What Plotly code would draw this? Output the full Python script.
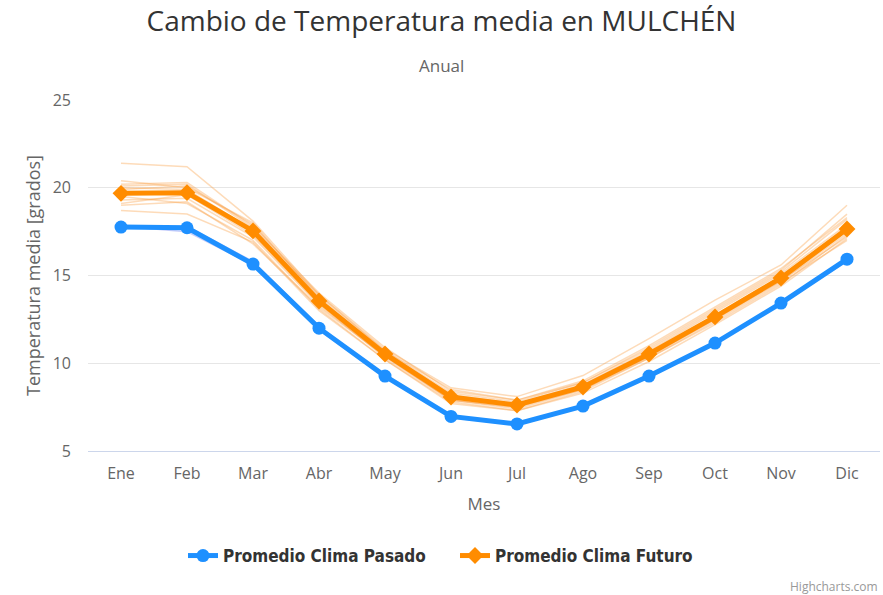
import plotly.graph_objects as go

meses = ["Ene", "Feb", "Mar", "Abr", "May", "Jun", "Jul", "Ago", "Sep", "Oct", "Nov", "Dic"]

pasado = [17.76, 17.72, 15.65, 12.0, 9.27, 6.97, 6.54, 7.56, 9.27, 11.15, 13.43, 15.93]
futuro = [19.68, 19.72, 17.54, 13.55, 10.53, 8.08, 7.62, 8.65, 10.53, 12.64, 14.86, 17.65]

modelos_pasado = [
    [17.8, 17.5, 15.6, 11.9, 9.2, 6.9, 6.5, 7.5, 9.2, 11.1, 13.4, 15.8],
    [17.7, 17.8, 15.8, 12.1, 9.3, 7.0, 6.6, 7.6, 9.3, 11.2, 13.5, 16.0],
]

modelos_futuro = [
    [21.4, 21.2, 18.1, 13.9, 10.8, 8.6, 8.1, 9.3, 11.4, 13.6, 15.6, 19.0],
    [18.7, 18.5, 16.9, 13.0, 10.2, 7.7, 7.3, 8.3, 10.1, 12.2, 14.4, 17.1],
    [19.9, 20.1, 17.9, 13.8, 10.7, 8.3, 7.8, 8.9, 10.8, 13.0, 15.2, 18.2],
    [19.3, 19.4, 17.2, 13.3, 10.4, 7.9, 7.5, 8.5, 10.4, 12.5, 14.7, 17.4],
    [20.2, 20.3, 17.8, 14.0, 10.9, 8.4, 7.9, 9.0, 11.0, 13.2, 15.4, 18.3],
    [19.5, 19.1, 17.0, 13.1, 10.2, 7.8, 7.3, 8.4, 10.3, 12.3, 14.5, 17.3],
    [20.0, 19.9, 17.6, 13.6, 10.5, 8.1, 7.6, 8.6, 10.6, 12.7, 14.9, 17.8],
    [19.1, 19.6, 17.3, 13.4, 10.3, 7.9, 7.4, 8.5, 10.3, 12.4, 14.6, 17.0],
    [20.4, 20.0, 18.0, 13.7, 10.6, 8.2, 7.7, 8.8, 10.7, 12.9, 15.1, 17.9],
    [19.7, 19.8, 17.5, 13.5, 10.6, 8.0, 7.6, 8.7, 10.5, 12.6, 14.8, 17.6],
    [19.0, 19.2, 16.8, 13.2, 10.4, 7.9, 7.5, 8.6, 10.4, 12.5, 14.7, 17.2],
    [20.1, 20.2, 17.7, 13.9, 10.7, 8.5, 7.9, 8.9, 10.9, 13.1, 15.3, 18.5],
]

FONT = "Open Sans"
BLUE = "#1E90FF"
ORANGE = "#FF8C00"

W, H = 883, 595
L, R, T, B = 88, 3, 100, 144
PW, PH = W - L - R, H - T - B


def px(x):
    return (x - L) / PW


def py(y):
    return (H - B - y) / PH


fig = go.Figure()

for m in modelos_pasado:
    fig.add_trace(go.Scatter(x=meses, y=m, mode="lines", showlegend=False, hoverinfo="skip",
                             line=dict(color="rgba(90,110,240,0.35)", width=1.5)))
for m in modelos_futuro:
    fig.add_trace(go.Scatter(x=meses, y=m, mode="lines", showlegend=False, hoverinfo="skip",
                             line=dict(color="rgba(250,160,70,0.38)", width=1.5)))

fig.add_trace(go.Scatter(x=meses, y=pasado, mode="lines+markers", name="Promedio Clima Pasado",
                         line=dict(color=BLUE, width=5),
                         marker=dict(symbol="circle", size=13, color=BLUE)))
fig.add_trace(go.Scatter(x=meses, y=futuro, mode="lines+markers", name="Promedio Clima Futuro",
                         line=dict(color=ORANGE, width=5),
                         marker=dict(symbol="diamond", size=13, color=ORANGE)))

fig.update_layout(
    width=W, height=H,
    margin=dict(l=L, r=R, t=T, b=B, autoexpand=False),
    paper_bgcolor="white", plot_bgcolor="white",
    font=dict(family=FONT, color="#666666"),
    title=dict(text="Cambio de Temperatura media en MULCHÉN", x=0.5, xref="container",
               xanchor="center", y=1 - 21 / H, yanchor="middle",
               font=dict(family=FONT, size=28, color="#333333")),
    xaxis=dict(type="category", showgrid=False, showline=True, linecolor="#ccd6eb", linewidth=1,
               ticks="", tickfont=dict(size=16, color="#666666"), ticklabelstandoff=8,
               title=dict(text="Mes", font=dict(size=17, color="#666666"), standoff=14),
               range=[-0.5, 11.5]),
    yaxis=dict(range=[5, 25], dtick=5, showgrid=True, gridcolor="#e6e6e6", zeroline=False,
               showline=False, tickfont=dict(size=16, color="#666666"), ticklabelstandoff=16,
               title=dict(text="Temperatura media [grados]", font=dict(size=18, color="#666666"),
                          standoff=7)),
    legend=dict(orientation="h", xref="container", x=455 / W, xanchor="center",
                yref="container", y=1 - 556 / H, yanchor="middle",
                font=dict(family="DejaVu Sans Condensed", size=17, color="#333333", weight="bold"),
                itemwidth=30, entrywidth=227, entrywidthmode="pixels"),
    annotations=[
        dict(text="Anual", x=px(441.5), xref="paper", y=py(65), yref="paper",
             yanchor="middle", showarrow=False, font=dict(size=17, color="#666666")),
        dict(text="Highcharts.com", x=px(880), xref="paper", xanchor="right",
             y=py(586), yref="paper", yanchor="middle", showarrow=False,
             font=dict(size=12, color="#999999")),
    ],
)

fig.write_html("out.html", config={"displayModeBar": False},
               post_script="document.body.style.margin='0';")
